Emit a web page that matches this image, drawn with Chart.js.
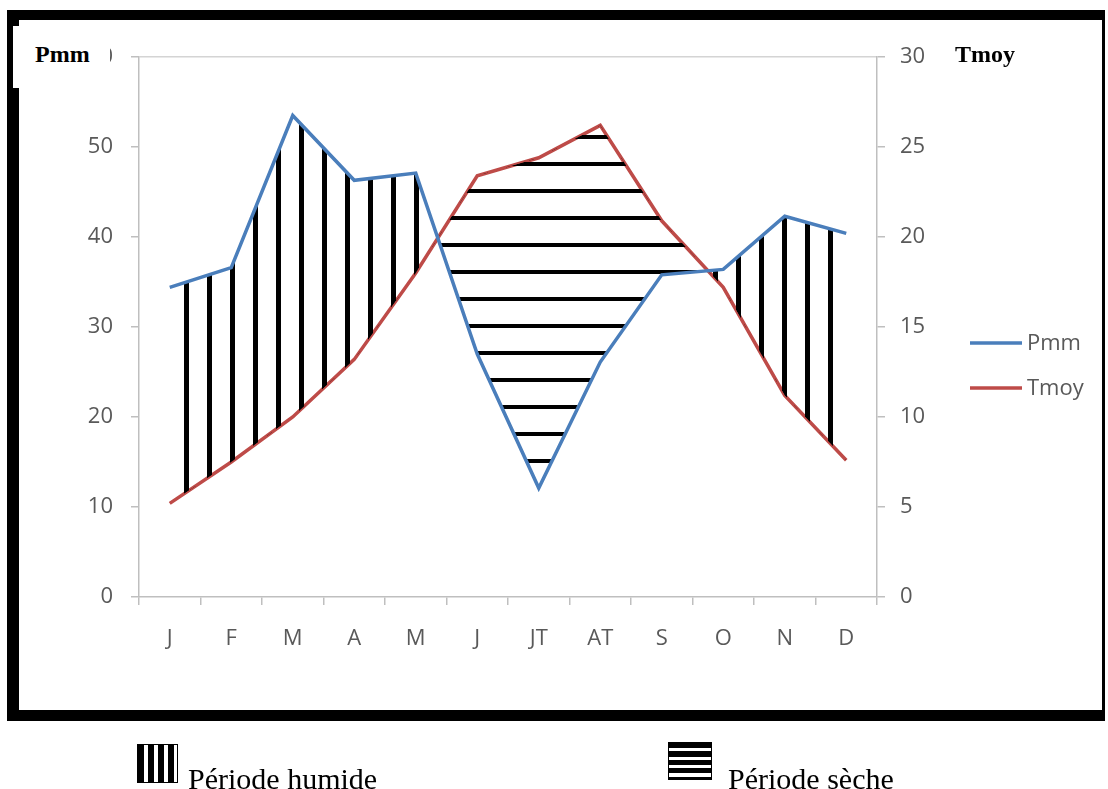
<!DOCTYPE html>
<html>
<head>
<meta charset="utf-8">
<script src="https://cdn.jsdelivr.net/npm/chart.js@4.4.1/dist/chart.umd.min.js"></script>
<style>
  html, body { margin: 0; padding: 0; background: #fff; width: 1108px; height: 789px; overflow: hidden; }
  #wrap { position: absolute; left: 0; top: 0; width: 1108px; height: 789px; }
  #frame { position: absolute; left: 7px; top: 10px; width: 1098px; height: 711px; box-sizing: border-box;
           border-left: 12px solid #000; border-top: 10px solid #000; border-bottom: 11px solid #000; border-right: 3px solid #000;
           pointer-events: none; }
  #pmmBox { position: absolute; left: 13px; top: 26px; width: 97px; height: 62px; background: #fff; }
  .axTitle { position: absolute; top: 42px; font: bold 24px "Liberation Serif", "Times New Roman", serif; line-height: 24px; color: #000; white-space: nowrap; }
  .legTxt { position: absolute; top: 764px; font: 30px "Liberation Serif", "Times New Roman", serif; line-height: 30px; color: #000; white-space: nowrap; }
  #ico1 { position: absolute; left: 137px; top: 744px; width: 41px; height: 39px; box-sizing: border-box; border: 1.5px solid #000;
          background: repeating-linear-gradient(90deg, #000 0 6px, #fff 6px 10px); }
  #ico2 { position: absolute; left: 668px; top: 742px; width: 44px; height: 38px; box-sizing: border-box; border: 1.5px solid #000;
          background: repeating-linear-gradient(180deg, #000 0 5px, #fff 5px 8.5px); }
</style>
</head>
<body>
<div id="wrap">
  <canvas id="c" width="1108" height="789"></canvas>
  <div id="frame"></div>
  <div id="pmmBox"></div>
  <div class="axTitle" style="left:35px">Pmm</div>
  <div class="axTitle" style="left:955px">Tmoy</div>
  <div id="ico1"></div>
  <div class="legTxt" style="left:188px">Période humide</div>
  <div id="ico2"></div>
  <div class="legTxt" style="left:728px">Période sèche</div>
</div>
<script>
// ---- data ----
const months = ['J', 'F', 'M', 'A', 'M', 'J', 'JT', 'AT', 'S', 'O', 'N', 'D'];
const pmm    = [34.4, 36.6, 53.5, 46.3, 47.1, 27.0, 12.1, 26.1, 35.8, 36.4, 42.3, 40.4];
const tmoy   = [5.2, 7.5, 10.0, 13.2, 18.0, 23.4, 24.4, 26.2, 20.9, 17.2, 11.2, 7.6];
const pmmTicks = [0, 10, 20, 30, 40, 50, 60];
const tmoyTicks = [0, 5, 10, 15, 20, 25, 30];

// ---- hatch patterns ----
function makePattern(w, h, draw) {
  const c = document.createElement('canvas');
  c.width = w; c.height = h;
  const g = c.getContext('2d');
  draw(g);
  return g.createPattern(c, 'repeat');
}
const vertHatch = makePattern(23, 4, g => { g.fillStyle = '#000'; g.fillRect(0, 0, 5, 4); });
const horzHatch = makePattern(4, 27, g => { g.fillStyle = '#000'; g.fillRect(0, 0, 4, 4); });

const GRAY = '#595959';
const AXIS = '#bfbfbf';
const tickFont = { family: '"Open Sans", "DejaVu Sans", sans-serif', size: 22 };

const legendPlugin = {
  id: 'sideLegend',
  afterDraw(chart) {
    const ctx = chart.ctx;
    const a = chart.chartArea;
    const x0 = a.right + 93, y0 = a.top + 286, gap = 45;
    ctx.save();
    chart.data.datasets.forEach((ds, i) => {
      const y = y0 + i * gap;
      ctx.strokeStyle = ds.borderColor;
      ctx.lineWidth = 3.5;
      ctx.beginPath(); ctx.moveTo(x0, y); ctx.lineTo(x0 + 52, y); ctx.stroke();
      ctx.fillStyle = GRAY;
      ctx.font = '22px "Open Sans", "DejaVu Sans", sans-serif';
      ctx.textBaseline = 'middle';
      ctx.textAlign = 'left';
      ctx.fillText(ds.label, x0 + 57, y + 1);
    });
    ctx.restore();
  }
};

new Chart(document.getElementById('c'), {
  type: 'line',
  data: {
    labels: months,
    datasets: [
      { label: 'Pmm', data: pmm, yAxisID: 'y', borderColor: '#4a7ebb', borderWidth: 3.5,
        pointRadius: 0, tension: 0,
        fill: { target: 1, above: vertHatch, below: horzHatch } },
      { label: 'Tmoy', data: tmoy, yAxisID: 'y1', borderColor: '#be4b48', borderWidth: 3.5,
        pointRadius: 0, tension: 0, fill: false }
    ]
  },
  options: {
    responsive: false,
    animation: false,
    devicePixelRatio: 1,
    layout: { padding: { left: 0, top: 57, right: 171, bottom: 132 } },
    plugins: { legend: { display: false }, tooltip: { enabled: false } },
    scales: {
      x: {
        type: 'category',
        offset: true,
        grid: { offset: true, drawOnChartArea: false, drawTicks: true, tickLength: 8, color: AXIS, lineWidth: 1.5 },
        border: { color: AXIS, width: 1.5 },
        ticks: { color: GRAY, font: tickFont, padding: 21, maxRotation: 0 },
        afterFit(s) { s.height = 60; }
      },
      y: {
        position: 'left',
        min: 0, max: 60,
        afterBuildTicks(s) { s.ticks = pmmTicks.map(v => ({ value: v })); },
        grid: {
          drawOnChartArea: true, drawTicks: true, tickLength: 8, lineWidth: 1.5,
          color: c => (c.tick && c.tick.value === 60) ? '#d4d4d4' : 'rgba(0,0,0,0)',
          tickColor: AXIS
        },
        border: { color: AXIS, width: 1.5 },
        ticks: { color: GRAY, font: tickFont, padding: 18 },
        afterFit(s) { s.width = 139; }
      },
      y1: {
        position: 'right',
        min: 0, max: 30,
        afterBuildTicks(s) { s.ticks = tmoyTicks.map(v => ({ value: v })); },
        grid: { drawOnChartArea: false, drawTicks: true, tickLength: 8, lineWidth: 1.5, color: AXIS, tickColor: AXIS },
        border: { color: AXIS, width: 1.5 },
        ticks: { color: GRAY, font: tickFont, padding: 15 },
        afterFit(s) { s.width = 60; }
      }
    }
  },
  plugins: [legendPlugin]
});
</script>
</body>
</html>
